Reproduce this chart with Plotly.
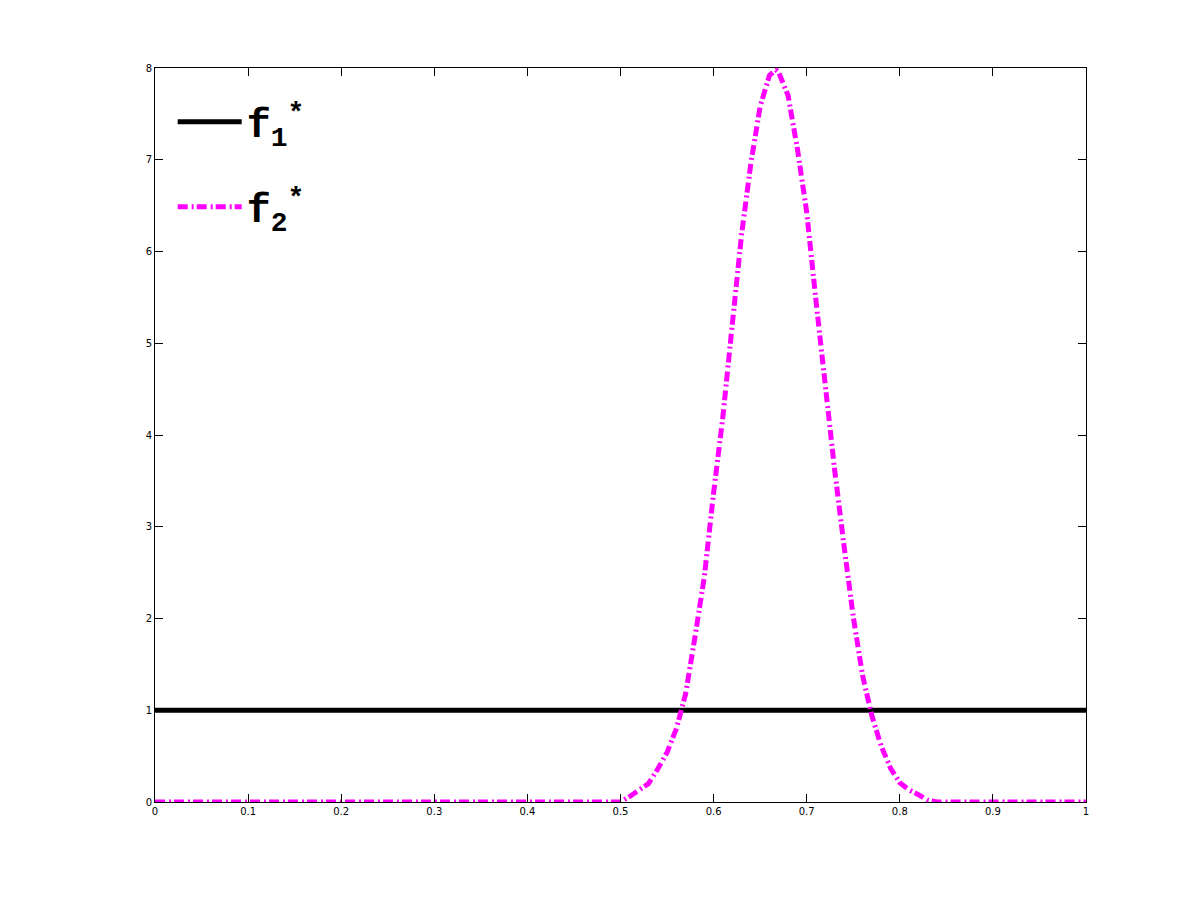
import plotly.graph_objects as go

# f1* : constant line
x_f1 = [0.0, 1.0]
y_f1 = [1.0, 1.0]

# f2* : bump (zero outside ~[0.5, 0.833])
x_f2 = [0.0, 0.25, 0.50, 0.51, 0.52, 0.53, 0.54, 0.55, 0.56, 0.57, 0.58, 0.59,
        0.60, 0.61, 0.62, 0.63, 0.64, 0.65, 0.66, 0.667, 0.67, 0.68, 0.69,
        0.70, 0.71, 0.72, 0.73, 0.74, 0.75, 0.76, 0.77, 0.78, 0.79, 0.80,
        0.81, 0.82, 0.83, 0.84, 1.0]
y_f2 = [0.0, 0.0, 0.0, 0.06, 0.13, 0.20, 0.36, 0.54, 0.80, 1.18, 1.80, 2.45,
        3.37, 4.20, 5.20, 6.18, 6.96, 7.58, 7.92, 7.98, 7.95, 7.70, 7.12,
        6.43, 5.46, 4.48, 3.62, 2.80, 2.02, 1.38, 0.94, 0.61, 0.37, 0.21,
        0.13, 0.08, 0.02, 0.0, 0.0]

x_ticks = [0, 0.1, 0.2, 0.3, 0.4, 0.5, 0.6, 0.7, 0.8, 0.9, 1]
y_ticks = [0, 1, 2, 3, 4, 5, 6, 7, 8]

fig = go.Figure()

fig.add_trace(go.Scatter(
    x=x_f1, y=y_f1,
    mode="lines",
    line=dict(color="black", width=5),
    name="<b>f<sub>1</sub><sup>*</sup></b>",
    legendgroup="f1",
))

fig.add_trace(go.Scatter(
    x=x_f2, y=y_f2,
    mode="lines",
    line=dict(color="#ff00ff", width=5, dash="10px,4px,2px,3px"),
    name="<b>f<sub>2</sub><sup>*</sup></b>",
    legendgroup="f2",
))

axis_common = dict(
    showgrid=False,
    zeroline=False,
    showline=True,
    linecolor="black",
    linewidth=1,
    mirror="ticks",
    ticks="inside",
    ticklen=8,
    tickcolor="black",
    tickfont=dict(family="DejaVu Sans", size=10, color="black"),
)

# page body adds 8px offset, margins account for it
fig.update_layout(
    width=1200,
    height=901,
    paper_bgcolor="white",
    plot_bgcolor="white",
    margin=dict(l=147, r=122, t=60, b=107),
    xaxis=dict(range=[0, 1], tickvals=x_ticks, **axis_common),
    yaxis=dict(range=[0, 8], tickvals=y_ticks, **axis_common),
    showlegend=True,
    legend=dict(
        x=0.019, y=0.971,
        xanchor="left", yanchor="top",
        bgcolor="rgba(0,0,0,0)",
        itemwidth=64,
        font=dict(family="Liberation Mono", size=40, color="black"),
        tracegroupgap=30,
    ),
)

fig.write_html("out.html")
